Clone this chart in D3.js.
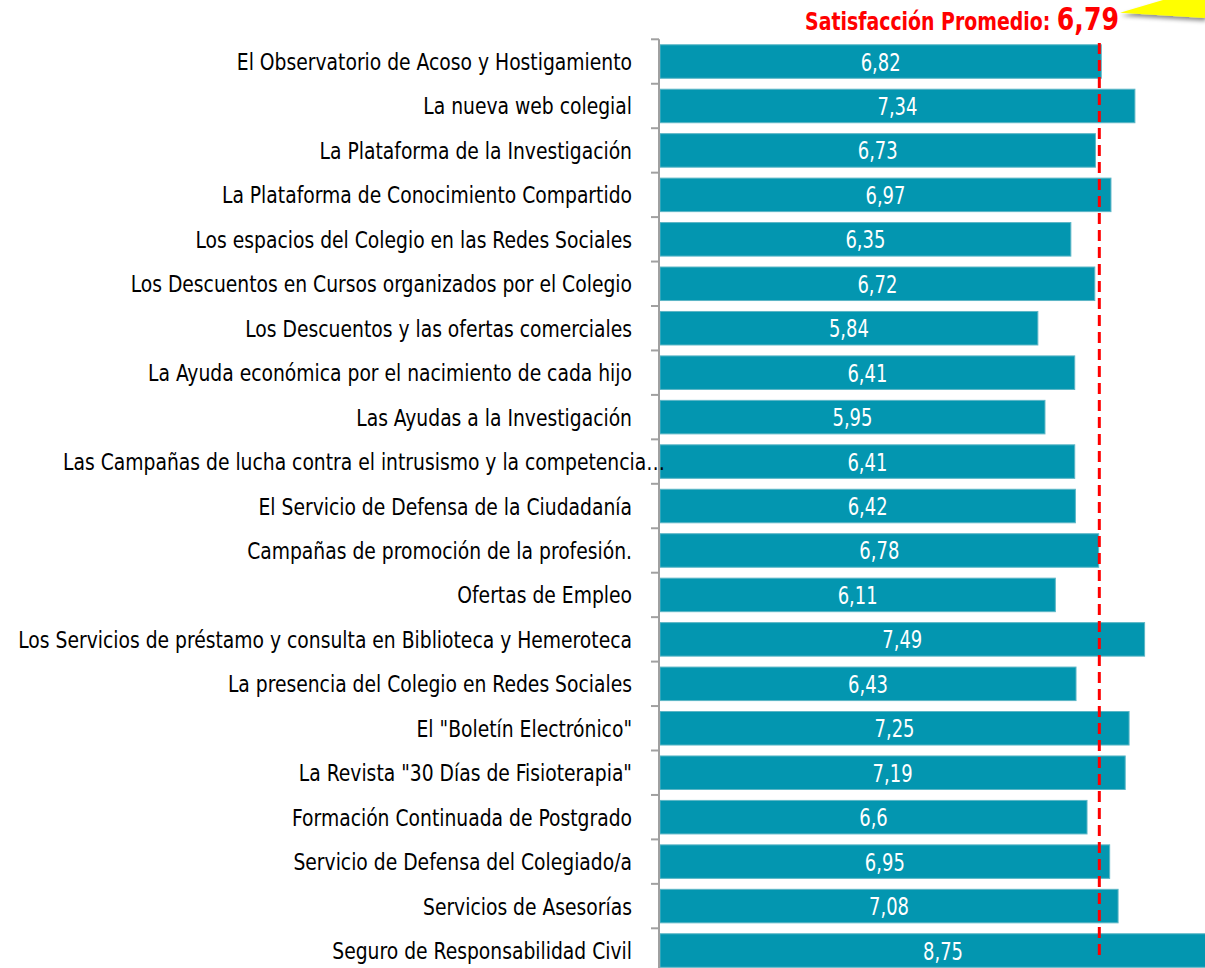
<!DOCTYPE html>
<html lang="es">
<head>
<meta charset="utf-8">
<title>Satisfacción Promedio</title>
<script src="https://cdn.jsdelivr.net/npm/d3@7"></script>
<style>
  html, body { margin: 0; padding: 0; background: #fff; overflow: hidden; }
  svg { display: block; font-family: "DejaVu Sans Condensed", "Liberation Sans Narrow", sans-serif; }
  .label { fill: #000; font-size: 23px; }
  .value { fill: #fff; font-size: 25px; }
  .title { fill: #ff0000; font-weight: bold; }
</style>
</head>
<body>
<script>
// categories, top to bottom
var categories = [
  "El Observatorio de Acoso y Hostigamiento",
  "La nueva web colegial",
  "La Plataforma de la Investigación",
  "La Plataforma de Conocimiento Compartido",
  "Los espacios del Colegio en las Redes Sociales",
  "Los Descuentos en Cursos organizados por el Colegio",
  "Los Descuentos y las ofertas comerciales",
  "La Ayuda económica por el nacimiento de cada hijo",
  "Las Ayudas a la Investigación",
  "Las Campañas de lucha contra el intrusismo y la competencia…",
  "El Servicio de Defensa de la Ciudadanía",
  "Campañas de promoción de la profesión.",
  "Ofertas de Empleo",
  "Los Servicios de préstamo y consulta en Biblioteca y Hemeroteca",
  "La presencia del Colegio en Redes Sociales",
  "El \"Boletín Electrónico\"",
  "La Revista \"30 Días de Fisioterapia\"",
  "Formación Continuada de Postgrado",
  "Servicio de Defensa del Colegiado/a",
  "Servicios de Asesorías",
  "Seguro de Responsabilidad Civil"
];

var values = [6.82, 7.34, 6.73, 6.97, 6.35, 6.72, 5.84, 6.41, 5.95, 6.41, 6.42,
              6.78, 6.11, 7.49, 6.43, 7.25, 7.19, 6.6, 6.95, 7.08, 8.75];

var average = 6.79;
var titleText = "Satisfacción Promedio: ";

var width = 1205, height = 968;

var svg = d3.select("body").append("svg")
    .attr("width", width)
    .attr("height", height);

var data = categories.map(function(c, i) { return { name: c, value: values[i] }; });

var x = d3.scaleLinear().domain([0, 1]).range([660, 660 + 64.7]);

var y = d3.scaleBand()
    .domain(categories)
    .range([39.3, 39.3 + 21 * 44.45])
    .paddingInner(0.246)
    .paddingOuter(0.123);

function fmt(v) { return String(v).replace(".", ","); }

// squeeze text horizontally so the wide fallback font looks condensed
function squeeze(sel, k) {
  sel.attr("transform", function() {
    var t = d3.select(this);
    return "translate(" + t.attr("x") + "," + t.attr("y") + ") scale(" + k + ",1)";
  }).attr("x", 0).attr("y", 0);
}

// bars
svg.append("g").selectAll("rect")
  .data(data)
  .enter().append("rect")
    .attr("x", x(0))
    .attr("y", function(d) { return y(d.name); })
    .attr("width", function(d) { return x(d.value) - x(0); })
    .attr("height", y.bandwidth())
    .attr("fill", "#0396b0")
    .attr("stroke", "#5cb6c6")
    .attr("stroke-width", 1);

// value labels
var valueText = svg.append("g").selectAll("text")
  .data(data)
  .enter().append("text")
    .attr("class", "value")
    .attr("x", function(d) { return (x(0) + x(d.value)) / 2; })
    .attr("y", function(d) { return y(d.name) + y.bandwidth() / 2 + 9; })
    .attr("text-anchor", "middle")
    .text(function(d) { return fmt(d.value); });
squeeze(valueText, 40 / valueText.node().getComputedTextLength());

// axis line with ticks between categories
var axis = svg.append("g").attr("stroke", "#a0a0a0").attr("stroke-width", 2);
var edges = d3.range(categories.length + 1).map(function(i) { return y.range()[0] + i * y.step(); });
axis.append("line")
    .attr("x1", 659).attr("x2", 659)
    .attr("y1", edges[0]).attr("y2", height);
axis.selectAll("line.tick")
  .data(edges)
  .enter().append("line")
    .attr("class", "tick")
    .attr("x1", 651).attr("x2", 659)
    .attr("y1", function(d) { return d; })
    .attr("y2", function(d) { return d; });

// category labels
var labelText = svg.append("g").selectAll("text")
  .data(data)
  .enter().append("text")
    .attr("class", "label")
    .attr("x", function(d) { return d.name.endsWith("…") ? 665 : 632; })
    .attr("y", function(d) { return y(d.name) + y.bandwidth() / 2 + 8.5; })
    .attr("text-anchor", "end")
    .text(function(d) { return d.name; });
squeeze(labelText, 614 / labelText.filter(function(d, i) { return i === 13; }).node().getComputedTextLength());

// average line
svg.append("line")
    .attr("x1", x(average)).attr("x2", x(average))
    .attr("y1", 43).attr("y2", 960)
    .attr("stroke", "#ff0000")
    .attr("stroke-width", 3)
    .attr("stroke-dasharray", "11,6");

// yellow callout tail with shadow
var shadow = svg.append("defs").append("filter").attr("id", "shadow")
    .attr("x", "-20%").attr("y", "-20%").attr("width", "140%").attr("height", "200%");
shadow.append("feDropShadow")
    .attr("dx", 1).attr("dy", 3).attr("stdDeviation", 2)
    .attr("flood-color", "#000").attr("flood-opacity", 0.45);
svg.append("polygon")
    .attr("points", [[1120, 12.7], [1163, 0], [1205, 0], [1205, 18]].join(" "))
    .attr("fill", "#ffff00")
    .attr("filter", "url(#shadow)");

// title
var title = svg.append("text")
    .attr("class", "title")
    .attr("x", 1119)
    .attr("y", 30)
    .attr("text-anchor", "end");
title.append("tspan").attr("font-size", 24).text(titleText);
title.append("tspan").attr("font-size", 32).text(fmt(average));
squeeze(title, 314 / title.node().getComputedTextLength());
</script>
</body>
</html>
